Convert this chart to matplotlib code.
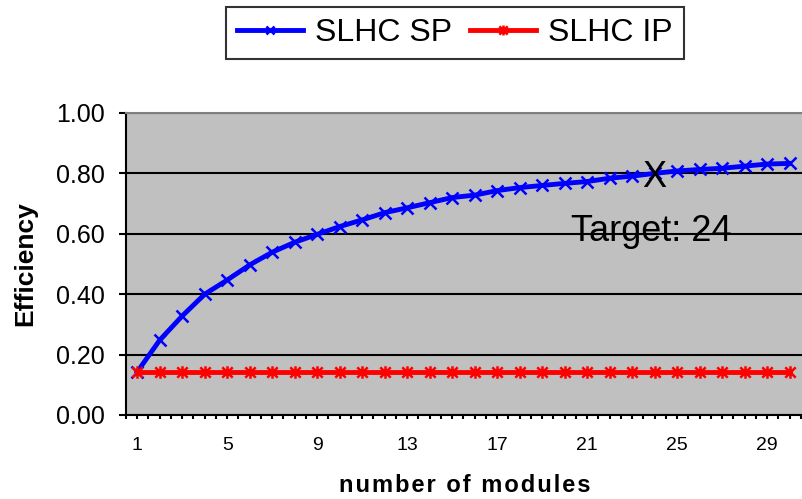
import numpy as np
import matplotlib
matplotlib.use("Agg")
import matplotlib.pyplot as plt
from matplotlib.path import Path

plt.rcParams["font.family"] = ["Liberation Sans", "DejaVu Sans"]

modules = np.arange(1, 31)
slhc_sp = [0.143, 0.248, 0.328, 0.400, 0.447, 0.497, 0.539, 0.572, 0.598, 0.624,
           0.646, 0.670, 0.686, 0.703, 0.720, 0.728, 0.743, 0.753, 0.760, 0.767,
           0.773, 0.784, 0.791, 0.800, 0.808, 0.813, 0.817, 0.824, 0.831, 0.833]
slhc_ip = [0.143] * 30
target = 24
x_labels = [1, 5, 9, 13, 17, 21, 25, 29]

# Excel-style star marker: an x with a vertical stroke through it
star = Path([(-1, -1), (1, 1), (-1, 1), (1, -1), (0, -1.2), (0, 1.2)],
            [Path.MOVETO, Path.LINETO, Path.MOVETO, Path.LINETO, Path.MOVETO, Path.LINETO])

fig = plt.figure(figsize=(8.03, 4.99), dpi=100)
ax = fig.add_axes([126 / 803, 84 / 499, 677 / 803, 302 / 499])
ax.set_facecolor("#C0C0C0")

ax.plot(modules, slhc_sp, color="#0000FF", lw=3.5, marker="x", ms=8, mew=1.8,
        label="SLHC SP", zorder=3)
ax.plot(modules, slhc_ip, color="#FF0000", lw=3.5, marker=star, ms=9, mew=1.8,
        label="SLHC IP", zorder=3)

# target point and its label
ax.annotate("X", xy=(target, slhc_sp[target - 1]), xytext=(0, -9.5),
            textcoords="offset points", fontsize=26, ha="center", va="baseline",
            color="black", zorder=4)
ax.text(target - 0.16, 0.576, "Target: %d" % target, fontsize=26, ha="center",
        va="baseline", color="black", zorder=4)

ax.set_xlim(0.5, 30.6)
ax.set_ylim(0, 1.0)
ax.set_yticks(np.arange(0, 1.01, 0.2))
ax.set_yticklabels(["%.2f" % v for v in np.arange(0, 1.01, 0.2)], fontsize=18)
ax.set_xticks(x_labels)
ax.set_xticklabels([str(v) for v in x_labels], fontsize=14)
ax.set_xticks(np.arange(0.5, 31, 0.5), minor=True)

ax.yaxis.grid(True, color="black", lw=1.5)
ax.set_axisbelow(True)
ax.tick_params(axis="y", direction="out", length=5, width=1.5, pad=10)
ax.tick_params(axis="x", which="both", direction="out", length=3, width=1.5, pad=13)

ax.spines["right"].set_visible(False)
ax.spines["top"].set_color("#808080")
ax.spines["top"].set_linewidth(1.5)
ax.spines["left"].set_linewidth(1.5)
ax.spines["bottom"].set_linewidth(1.5)

ax.set_ylabel("Efficiency", fontsize=19, fontweight="bold", labelpad=14)
# spaced-out lettering on the x title
ax.set_xlabel("\u200a".join("number of modules"), fontsize=17, fontweight="bold",
              labelpad=14)

leg = fig.legend(loc="center", bbox_to_anchor=(455 / 803, 1 - 33 / 499), ncol=2,
                 fontsize=23, frameon=True, fancybox=False, edgecolor="black",
                 handlelength=2.05, handletextpad=0.4, columnspacing=0.55,
                 borderpad=0.35, borderaxespad=0, markerscale=0.8)
leg.get_frame().set_linewidth(1.5)

fig.savefig("out.png", dpi=100)
